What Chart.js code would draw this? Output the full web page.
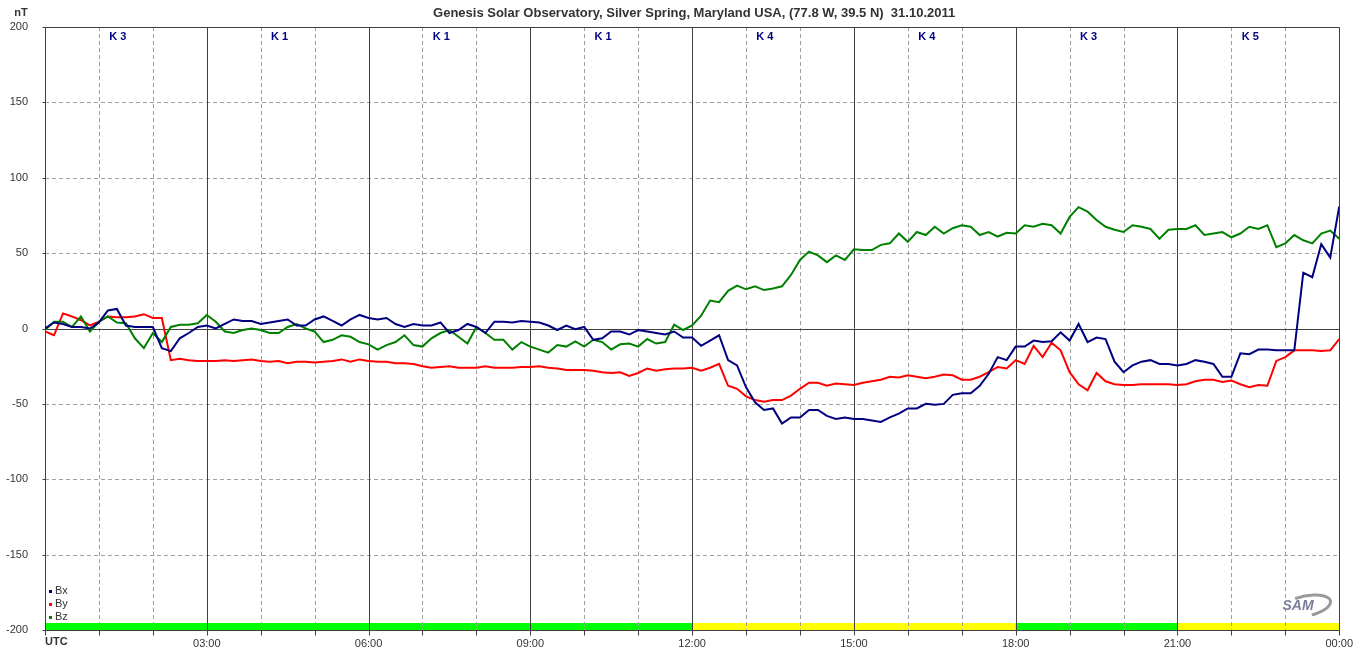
<!DOCTYPE html>
<html><head><meta charset="utf-8">
<script src="https://cdn.jsdelivr.net/npm/chart.js@4.4.0/dist/chart.umd.min.js"></script>
<style>html,body{margin:0;padding:0;background:#fff;}#wrap{width:1360px;height:657px;position:relative;}</style>
</head><body><div id="wrap"><canvas id="c" width="1360" height="657"></canvas></div>
<script>
const titleText = "Genesis Solar Observatory, Silver Spring, Maryland USA, (77.8 W, 39.5 N)  31.10.2011";
const seriesNames = ["Bx", "By", "Bz"];
const kIndex = [3, 1, 1, 1, 4, 4, 3, 5];
const xTickLabels = ["03:00", "06:00", "09:00", "12:00", "15:00", "18:00", "21:00", "00:00"];
const yTicks = [-200, -150, -100, -50, 0, 50, 100, 150, 200];
// quality bar segments
const barStarts = [0, 720, 1080, 1260];
const barEnds = [720, 1080, 1260, 1440];
const barColors = ["#00ff00", "#ffff00", "#00ff00", "#ffff00"];

const minutes = [0,10,20,30,40,50,60,70,80,90,100,110,120,130,140,150,160,170,180,190,200,210,220,230,240,250,260,270,280,290,300,310,320,330,340,350,
360,370,380,390,400,410,420,430,440,450,460,470,480,490,500,510,520,530,540,550,560,570,580,590,600,610,620,630,640,650,660,670,680,690,700,710,
720,730,740,750,760,770,780,790,800,810,820,830,840,850,860,870,880,890,900,910,920,930,940,950,960,970,980,990,1000,1010,1020,1030,1040,1050,1060,1070,
1080,1090,1100,1110,1120,1130,1140,1150,1160,1170,1180,1190,1200,1210,1220,1230,1240,1250,1260,1270,1280,1290,1300,1310,1320,1330,1340,1350,1360,1370,1380,1390,1400,1410,1420,1430,1440];

const bx = [0,4,3,1,1,0,4,12,13,2,1,1,1,-13,-15,-6.5,-3,1,2,0,3,6,5,5,3,4,5,6,2,2,6,8,5,2,6,9,
7,6,7,3,1,3,2,2,4,-3,-1,3,1,-3,4.5,4.5,4,5,4.5,4,2,-1,2,-0.5,1,-7.5,-6.5,-2,-2,-4,-1,-2,-3,-4,-2,-6,
-6,-11.5,-8,-4.5,-21,-24.5,-39,-49,-54,-53,-63,-59,-59,-54,-54,-58,-60,-59,-60,-60,-61,-62,-59,-56.5,-53,-53,-50,-50.5,-50,-44,-43,-43,-38,-30,-19,-21,
-12,-12,-8,-9,-8.5,-2.5,-8,3,-9,-6,-7,-22,-29,-24.5,-22,-21,-23.5,-23.5,-24.5,-23.5,-21,-22,-23.5,-32,-32,-16.5,-17,-14,-14,-14.5,-14.5,-14.5,37,34,56,47,81];

const by = [-2,-4.5,10,8,5.5,2,4.5,8,7.5,7.5,8,9.5,7,7,-21,-20,-21,-21.5,-21.5,-21.5,-21,-21.5,-21,-20.5,-21.5,-22,-21.5,-23,-22,-22,-22.5,-22,-21.5,-20.5,-22,-20.5,
-21.5,-22,-22,-23,-23,-23.5,-25,-26,-25.5,-25,-26,-26,-26,-25,-26,-26,-26,-25.5,-25.5,-25,-26,-26.5,-27.5,-27.5,-27.5,-28,-29,-29.5,-29,-31.5,-29.5,-26.5,-28,-27,-26.5,-26.5,
-26,-28,-26,-23.5,-38,-40,-45,-47.5,-48.5,-47.5,-47.5,-44.5,-40,-36,-36,-38,-36.5,-37,-37.5,-36,-35,-34,-32,-32.5,-31,-32,-33,-32,-30.5,-31,-34,-34,-32,-29,-25.5,-26.5,
-21,-23.5,-11.5,-19,-9.5,-14.5,-29,-37,-41,-29.5,-35,-37,-37.5,-37.5,-37,-37,-37,-37,-37.5,-37,-35,-34,-34,-35.5,-34.5,-37,-39,-37.5,-38,-21.5,-19,-14.5,-14.5,-14.5,-15,-14.5,-7];

const bz = [-1,4.5,4.5,1,8,-2,4.5,8,4,3.5,-6.5,-13,-3,-9,1,2.5,2.5,3.5,9,4.5,-2,-3,-1,0,-1,-3,-3,1,3,0,-2,-9,-7.5,-4.5,-5.5,-9,
-10.5,-14,-11,-9,-4.5,-11,-12,-6.5,-3,-1,-5.5,-10,1,-3,-7.5,-7.5,-14,-9,-12,-14,-16,-11,-12,-8.5,-12,-7.5,-9,-14,-10.5,-10,-12,-7,-10,-9,2.5,-1,
2,8.5,18.5,17.5,25,28.5,26,28,25.5,26.5,28,35.5,45.5,51,48.5,44,48.5,45.5,52.5,52,52,55.5,56.5,63,57.5,64,62,67.5,63,66.5,68.5,67.5,62,64,61,63.5,
63,68.5,67.5,69.5,68.5,63,74,80.5,77.5,72,67.5,65.5,64,68.5,67.5,66,59.5,65.5,66,66,68.5,62,63,64,60.5,63,67.5,66,68.5,54,56.5,62,58.5,56.5,63,65,59.5];

const seriesColors = ["#000080", "#ff0000", "#008000"];
const FONT = "'Liberation Sans', Arial, sans-serif";

function pts(arr) { return minutes.map((m, i) => ({x: m, y: arr[i]})); }

const decor = {
  id: 'decor',
  beforeDatasetsDraw(chart) {
    const {ctx, chartArea: a, scales: {x, y}} = chart;
    ctx.save();
    for (let i = 0; i < barStarts.length; i++) {
      const x0 = x.getPixelForValue(barStarts[i]), x1 = x.getPixelForValue(barEnds[i]);
      ctx.fillStyle = barColors[i];
      ctx.fillRect(x0, a.bottom - 7, x1 - x0, 7);
    }
    ctx.strokeStyle = '#a0a0a0';
    ctx.lineWidth = 1;
    ctx.setLineDash([4, 3]);
    for (let m = 60; m < 1440; m += 60) {
      if (m % 180 === 0) continue;
      const px = Math.round(x.getPixelForValue(m)) + 0.5;
      ctx.beginPath(); ctx.moveTo(px, a.top); ctx.lineTo(px, a.bottom); ctx.stroke();
    }
    for (const v of yTicks) {
      if (v === 0 || v === 200 || v === -200) continue;
      const py = Math.round(y.getPixelForValue(v)) + 0.5;
      ctx.beginPath(); ctx.moveTo(a.left, py); ctx.lineTo(a.right, py); ctx.stroke();
    }
    ctx.setLineDash([]);
    ctx.strokeStyle = '#404040';
    for (let m = 180; m < 1440; m += 180) {
      const px = Math.round(x.getPixelForValue(m)) + 0.5;
      ctx.beginPath(); ctx.moveTo(px, a.top); ctx.lineTo(px, a.bottom); ctx.stroke();
    }
    const zy = Math.round(y.getPixelForValue(0)) + 0.5;
    ctx.beginPath(); ctx.moveTo(a.left, zy); ctx.lineTo(a.right, zy); ctx.stroke();
    const L = Math.round(a.left) + 0.5, R = Math.round(a.right) + 0.5;
    const T = Math.round(a.top) + 0.5, B = Math.round(a.bottom) + 0.5;
    ctx.beginPath();
    ctx.moveTo(L, T); ctx.lineTo(R, T); ctx.lineTo(R, B); ctx.lineTo(L, B); ctx.closePath();
    ctx.stroke();
    for (const v of yTicks) {
      const py = Math.round(y.getPixelForValue(v)) + 0.5;
      ctx.beginPath(); ctx.moveTo(L - 3, py); ctx.lineTo(L, py); ctx.stroke();
    }
    for (let m = 0; m <= 1440; m += 60) {
      const px = Math.round(x.getPixelForValue(m)) + 0.5;
      ctx.beginPath(); ctx.moveTo(px, B); ctx.lineTo(px, B + 5); ctx.stroke();
    }
    ctx.restore();
  },
  afterDraw(chart) {
    const {ctx, chartArea: a, scales: {x}} = chart;
    ctx.save();
    ctx.textBaseline = 'middle';
    ctx.fillStyle = '#333333';
    ctx.font = 'bold 13px ' + FONT;
    ctx.textAlign = 'center';
    ctx.fillText(titleText, (a.left + a.right) / 2 + 2, 13);
    ctx.font = 'bold 11px ' + FONT;
    ctx.fillText('nT', 21, 13);
    ctx.textAlign = 'left';
    ctx.fillText('UTC', a.left, 642);
    ctx.fillStyle = '#000080';
    ctx.textAlign = 'center';
    ctx.font = 'bold 11px ' + FONT;
    kIndex.forEach((k, i) => {
      ctx.fillText('K ' + k, x.getPixelForValue(i * 180 + 81), 37);
    });
    ctx.font = '11px ' + FONT;
    ctx.textAlign = 'left';
    seriesNames.forEach((n, i) => {
      const cy = 591 + i * 13;
      ctx.fillStyle = seriesColors[i];
      ctx.fillRect(a.left + 4, cy - 1, 3, 3);
      ctx.fillStyle = '#333333';
      ctx.fillText(n, a.left + 10, cy);
    });
    // SAM logo
    ctx.strokeStyle = '#9a9a9a';
    ctx.lineWidth = 3;
    ctx.beginPath();
    ctx.ellipse(1306, 606, 25, 10, -0.2, -Math.PI * 0.62, Math.PI * 0.45, false);
    ctx.stroke();
    ctx.fillStyle = '#7a7f96';
    ctx.font = 'italic bold 14px ' + FONT;
    ctx.textAlign = 'center';
    ctx.fillText('SAM', 1298, 606);
    ctx.restore();
  }
};

new Chart(document.getElementById('c'), {
  type: 'line',
  data: {
    datasets: [
      {label: seriesNames[1], data: pts(by), borderColor: seriesColors[1], order: 3},
      {label: seriesNames[0], data: pts(bx), borderColor: seriesColors[0], order: 1},
      {label: seriesNames[2], data: pts(bz), borderColor: seriesColors[2], order: 2}
    ]
  },
  options: {
    responsive: false,
    animation: false,
    events: [],
    devicePixelRatio: 1,
    elements: {
      line: {borderWidth: 2, tension: 0, borderJoinStyle: 'miter'},
      point: {radius: 0}
    },
    layout: {padding: {left: 0, right: 20, top: 27, bottom: 0}},
    plugins: {legend: {display: false}, tooltip: {enabled: false}, title: {display: false}},
    scales: {
      x: {
        type: 'linear', min: 0, max: 1440,
        grid: {display: false, drawTicks: false},
        border: {display: false},
        afterFit: s => { s.height = 27; },
        afterBuildTicks: s => { s.ticks = xTickLabels.map((l, i) => ({value: (i + 1) * 180})); },
        ticks: {
          autoSkip: false, maxRotation: 0, padding: 7, color: '#333333',
          font: {family: FONT, size: 11},
          callback: (v, i) => xTickLabels[i]
        }
      },
      y: {
        type: 'linear', min: -200, max: 200,
        grid: {display: false, drawTicks: false},
        border: {display: false},
        afterFit: s => { s.width = 45; },
        afterBuildTicks: s => { s.ticks = yTicks.map(v => ({value: v})); },
        ticks: {
          padding: 17, color: '#333333',
          font: {family: FONT, size: 11},
          callback: v => String(v)
        }
      }
    }
  },
  plugins: [decor]
});
</script>
</body></html>
